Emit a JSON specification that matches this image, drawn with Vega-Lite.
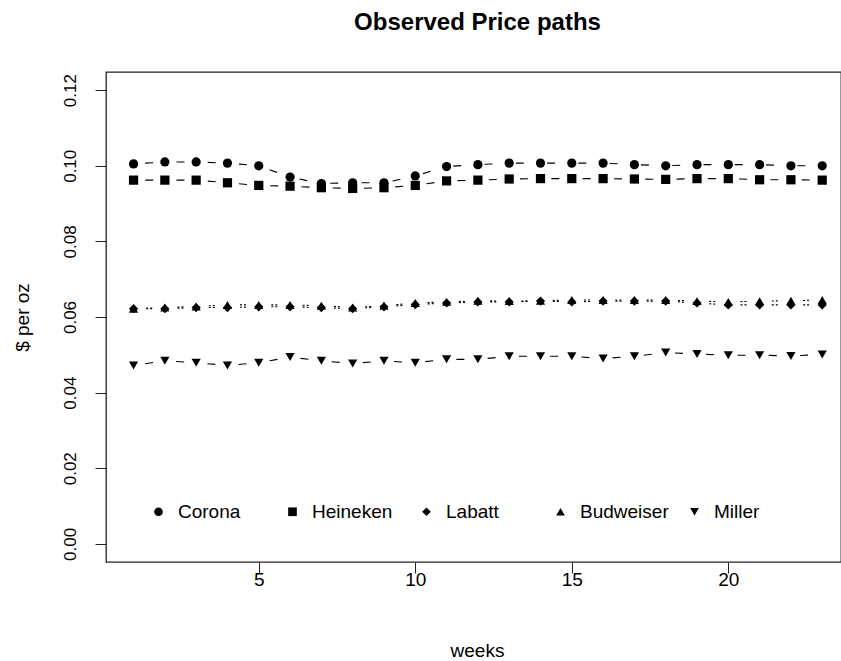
{
  "$schema": "https://vega.github.io/schema/vega-lite/v6.json",
  "width": 735,
  "height": 490,
  "autosize": {"type": "none"},
  "padding": {"left": 106, "top": 72, "right": 0, "bottom": 99},
  "background": "white",
  "config": {
    "view": {"stroke": "#222222", "strokeWidth": 1.3},
    "font": "Liberation Sans"
  },
  "title": {
    "text": "Observed Price paths",
    "font": "Liberation Sans",
    "fontSize": 24,
    "fontWeight": "bold",
    "color": "black",
    "anchor": "middle",
    "baseline": "alphabetic",
    "offset": 18,
    "dx": 4
  },
  "datasets": {
    "prices": [
      {"week": 1, "brand": "Corona", "price": 0.1005}, {"week": 2, "brand": "Corona", "price": 0.1010}, {"week": 3, "brand": "Corona", "price": 0.1010}, {"week": 4, "brand": "Corona", "price": 0.1007}, {"week": 5, "brand": "Corona", "price": 0.1000}, {"week": 6, "brand": "Corona", "price": 0.0970}, {"week": 7, "brand": "Corona", "price": 0.0953}, {"week": 8, "brand": "Corona", "price": 0.0955}, {"week": 9, "brand": "Corona", "price": 0.0955}, {"week": 10, "brand": "Corona", "price": 0.0973}, {"week": 11, "brand": "Corona", "price": 0.0998}, {"week": 12, "brand": "Corona", "price": 0.1003}, {"week": 13, "brand": "Corona", "price": 0.1007}, {"week": 14, "brand": "Corona", "price": 0.1007}, {"week": 15, "brand": "Corona", "price": 0.1007}, {"week": 16, "brand": "Corona", "price": 0.1007}, {"week": 17, "brand": "Corona", "price": 0.1003}, {"week": 18, "brand": "Corona", "price": 0.1000}, {"week": 19, "brand": "Corona", "price": 0.1003}, {"week": 20, "brand": "Corona", "price": 0.1003}, {"week": 21, "brand": "Corona", "price": 0.1003}, {"week": 22, "brand": "Corona", "price": 0.1000}, {"week": 23, "brand": "Corona", "price": 0.1000},
      {"week": 1, "brand": "Heineken", "price": 0.0962}, {"week": 2, "brand": "Heineken", "price": 0.0962}, {"week": 3, "brand": "Heineken", "price": 0.0962}, {"week": 4, "brand": "Heineken", "price": 0.0955}, {"week": 5, "brand": "Heineken", "price": 0.0948}, {"week": 6, "brand": "Heineken", "price": 0.0946}, {"week": 7, "brand": "Heineken", "price": 0.0942}, {"week": 8, "brand": "Heineken", "price": 0.0940}, {"week": 9, "brand": "Heineken", "price": 0.0942}, {"week": 10, "brand": "Heineken", "price": 0.0948}, {"week": 11, "brand": "Heineken", "price": 0.0960}, {"week": 12, "brand": "Heineken", "price": 0.0962}, {"week": 13, "brand": "Heineken", "price": 0.0965}, {"week": 14, "brand": "Heineken", "price": 0.0966}, {"week": 15, "brand": "Heineken", "price": 0.0966}, {"week": 16, "brand": "Heineken", "price": 0.0966}, {"week": 17, "brand": "Heineken", "price": 0.0965}, {"week": 18, "brand": "Heineken", "price": 0.0964}, {"week": 19, "brand": "Heineken", "price": 0.0966}, {"week": 20, "brand": "Heineken", "price": 0.0966}, {"week": 21, "brand": "Heineken", "price": 0.0963}, {"week": 22, "brand": "Heineken", "price": 0.0963}, {"week": 23, "brand": "Heineken", "price": 0.0962},
      {"week": 1, "brand": "Labatt", "price": 0.0622}, {"week": 2, "brand": "Labatt", "price": 0.0622}, {"week": 3, "brand": "Labatt", "price": 0.0625}, {"week": 4, "brand": "Labatt", "price": 0.0625}, {"week": 5, "brand": "Labatt", "price": 0.0627}, {"week": 6, "brand": "Labatt", "price": 0.0627}, {"week": 7, "brand": "Labatt", "price": 0.0625}, {"week": 8, "brand": "Labatt", "price": 0.0622}, {"week": 9, "brand": "Labatt", "price": 0.0627}, {"week": 10, "brand": "Labatt", "price": 0.0633}, {"week": 11, "brand": "Labatt", "price": 0.0637}, {"week": 12, "brand": "Labatt", "price": 0.0640}, {"week": 13, "brand": "Labatt", "price": 0.0640}, {"week": 14, "brand": "Labatt", "price": 0.0642}, {"week": 15, "brand": "Labatt", "price": 0.0640}, {"week": 16, "brand": "Labatt", "price": 0.0642}, {"week": 17, "brand": "Labatt", "price": 0.0642}, {"week": 18, "brand": "Labatt", "price": 0.0642}, {"week": 19, "brand": "Labatt", "price": 0.0637}, {"week": 20, "brand": "Labatt", "price": 0.0632}, {"week": 21, "brand": "Labatt", "price": 0.0632}, {"week": 22, "brand": "Labatt", "price": 0.0632}, {"week": 23, "brand": "Labatt", "price": 0.0632},
      {"week": 1, "brand": "Budweiser", "price": 0.0622}, {"week": 2, "brand": "Budweiser", "price": 0.0625}, {"week": 3, "brand": "Budweiser", "price": 0.0628}, {"week": 4, "brand": "Budweiser", "price": 0.0632}, {"week": 5, "brand": "Budweiser", "price": 0.0632}, {"week": 6, "brand": "Budweiser", "price": 0.0632}, {"week": 7, "brand": "Budweiser", "price": 0.0630}, {"week": 8, "brand": "Budweiser", "price": 0.0625}, {"week": 9, "brand": "Budweiser", "price": 0.0630}, {"week": 10, "brand": "Budweiser", "price": 0.0637}, {"week": 11, "brand": "Budweiser", "price": 0.0640}, {"week": 12, "brand": "Budweiser", "price": 0.0643}, {"week": 13, "brand": "Budweiser", "price": 0.0642}, {"week": 14, "brand": "Budweiser", "price": 0.0643}, {"week": 15, "brand": "Budweiser", "price": 0.0645}, {"week": 16, "brand": "Budweiser", "price": 0.0645}, {"week": 17, "brand": "Budweiser", "price": 0.0645}, {"week": 18, "brand": "Budweiser", "price": 0.0645}, {"week": 19, "brand": "Budweiser", "price": 0.0642}, {"week": 20, "brand": "Budweiser", "price": 0.0640}, {"week": 21, "brand": "Budweiser", "price": 0.0642}, {"week": 22, "brand": "Budweiser", "price": 0.0643}, {"week": 23, "brand": "Budweiser", "price": 0.0645},
      {"week": 1, "brand": "Miller", "price": 0.0472}, {"week": 2, "brand": "Miller", "price": 0.0484}, {"week": 3, "brand": "Miller", "price": 0.0479}, {"week": 4, "brand": "Miller", "price": 0.0472}, {"week": 5, "brand": "Miller", "price": 0.0479}, {"week": 6, "brand": "Miller", "price": 0.0494}, {"week": 7, "brand": "Miller", "price": 0.0484}, {"week": 8, "brand": "Miller", "price": 0.0477}, {"week": 9, "brand": "Miller", "price": 0.0484}, {"week": 10, "brand": "Miller", "price": 0.0479}, {"week": 11, "brand": "Miller", "price": 0.0488}, {"week": 12, "brand": "Miller", "price": 0.0488}, {"week": 13, "brand": "Miller", "price": 0.0496}, {"week": 14, "brand": "Miller", "price": 0.0496}, {"week": 15, "brand": "Miller", "price": 0.0496}, {"week": 16, "brand": "Miller", "price": 0.0490}, {"week": 17, "brand": "Miller", "price": 0.0496}, {"week": 18, "brand": "Miller", "price": 0.0506}, {"week": 19, "brand": "Miller", "price": 0.0502}, {"week": 20, "brand": "Miller", "price": 0.0499}, {"week": 21, "brand": "Miller", "price": 0.0499}, {"week": 22, "brand": "Miller", "price": 0.0497}, {"week": 23, "brand": "Miller", "price": 0.0501}
    ]
  },
  "data": {"name": "prices"},
  "encoding": {
    "x": {
      "field": "week",
      "type": "quantitative",
      "scale": {"domain": [0.12, 23.6], "nice": false, "zero": false},
      "axis": {
        "values": [5, 10, 15, 20],
        "title": "weeks",
        "grid": false,
        "domain": false,
        "tickSize": 11,
        "tickColor": "#222222",
        "labelFont": "Liberation Sans",
        "labelFontSize": 19,
        "labelColor": "black",
        "labelPadding": -3,
        "labelFlush": false,
        "titleFont": "Liberation Sans",
        "titleFontSize": 19,
        "titleFontWeight": "normal",
        "titleColor": "black",
        "titleX": 371,
        "titleY": 88,
        "titleAlign": "center",
        "titleBaseline": "middle"
      }
    },
    "y": {
      "field": "price",
      "type": "quantitative",
      "scale": {"domain": [-0.0048, 0.1248], "nice": false, "zero": false},
      "axis": {
        "values": [0, 0.02, 0.04, 0.06, 0.08, 0.1, 0.12],
        "format": ".2f",
        "title": "$ per oz",
        "grid": false,
        "domain": false,
        "tickSize": 11,
        "tickColor": "#222222",
        "labelAngle": -90,
        "labelAlign": "center",
        "labelBaseline": "bottom",
        "labelFont": "Liberation Sans",
        "labelFontSize": 17,
        "labelColor": "black",
        "labelPadding": 16,
        "labelFlush": false,
        "titleFont": "Liberation Sans",
        "titleFontSize": 19,
        "titleFontWeight": "normal",
        "titleColor": "black",
        "titleAngle": -90,
        "titleX": -84,
        "titleY": 245,
        "titleAlign": "center",
        "titleBaseline": "middle"
      }
    }
  },
  "layer": [
    {
      "mark": {"type": "line", "stroke": "black", "strokeWidth": 1.1},
      "encoding": {
        "detail": {"field": "brand", "type": "nominal"},
        "strokeDash": {
          "field": "brand",
          "type": "nominal",
          "scale": {
            "domain": ["Corona", "Heineken", "Labatt", "Budweiser", "Miller"],
            "range": [[0, 11.65, 8, 11.65], [0, 11.65, 8, 11.65], [0, 12.65, 2, 2, 2, 12.65], [0, 12.65, 2, 2, 2, 12.65], [0, 11.65, 8, 11.65]]
          },
          "legend": null
        }
      }
    },
    {
      "mark": {"type": "point", "filled": true, "color": "black", "opacity": 1, "size": 85},
      "encoding": {
        "shape": {
          "field": "brand",
          "type": "nominal",
          "scale": {
            "domain": ["Corona", "Heineken", "Labatt", "Budweiser", "Miller"],
            "range": ["circle", "square", "diamond", "triangle-up", "triangle-down"]
          },
          "legend": {
            "orient": "none",
            "legendX": 43,
            "legendY": 430,
            "direction": "horizontal",
            "columns": 5,
            "gridAlign": "all",
            "title": null,
            "padding": 0,
            "labelFont": "Liberation Sans",
            "labelFontSize": 19,
            "labelColor": "black",
            "labelOffset": 10,
            "columnPadding": 16,
            "symbolSize": 75,
            "symbolType": "circle",
            "symbolFillColor": "black",
            "symbolStrokeColor": "black",
            "symbolStrokeWidth": 0
          }
        }
      }
    }
  ],
  "resolve": {"legend": {"shape": "independent", "strokeDash": "independent"}}
}
